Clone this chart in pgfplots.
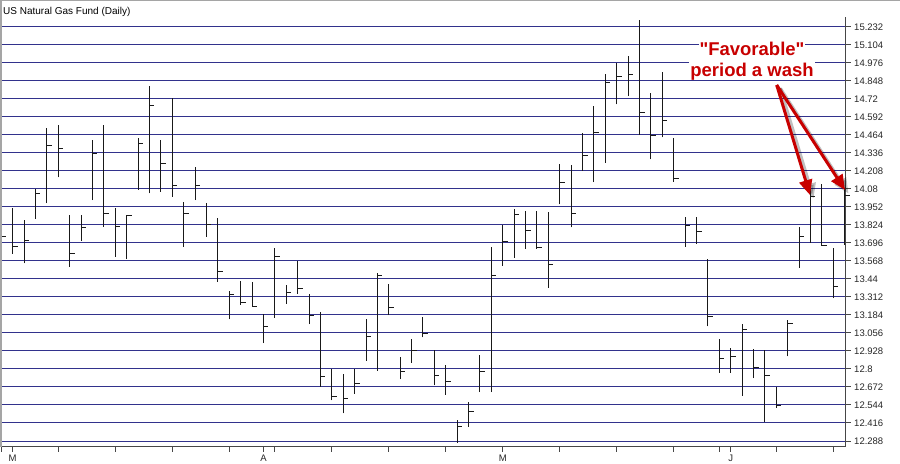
\documentclass[border=0pt]{standalone}
\usepackage{fontspec}
\setmainfont{Liberation Sans}
\newfontfamily\annfont{Liberation Sans}[Ligatures=TeXOff]
\usepackage{pgfplots}
\pgfplotsset{compat=1.18}
\usepackage{pgfplotstable}
\usetikzlibrary{arrows.meta}
\definecolor{gridblue}{RGB}{50,50,140}
\definecolor{barcol}{RGB}{25,25,25}
\definecolor{axiscol}{RGB}{70,70,70}
\definecolor{bordercol}{RGB}{165,165,165}
\definecolor{annred}{RGB}{200,0,0}

\pgfdeclareplotmark{closetick}{\pgfpathmoveto{\pgfpointorigin}\pgfpathlineto{\pgfpoint{5bp}{0pt}}\pgfusepathqstroke}
\pgfdeclareplotmark{nothing}{}

\pgfplotstableread{
i high low close
0 13.900 13.600 13.738
1 13.943 13.620 13.672
2 13.857 13.551 13.715
3 14.082 13.869 14.049
4 14.509 13.978 14.388
5 14.533 14.161 14.367
6 13.895 13.528 13.623
7 13.895 13.710 13.803
8 14.426 13.999 14.331
9 14.533 13.812 13.905
10 13.943 13.599 13.815
11 13.895 13.580 13.893
12 14.440 14.073 14.402
13 14.811 14.047 14.670
14 14.426 14.059 14.260
15 14.728 14.023 14.104
16 13.983 13.670 13.905
17 14.234 13.999 14.104
18 13.976 13.741 13.824
19 13.871 13.421 13.492
20 13.355 13.153 13.331
21 13.426 13.255 13.272
22 13.421 13.243 13.243
23 13.189 12.983 13.103
24 13.660 13.163 13.601
25 13.394 13.262 13.340
26 13.566 13.336 13.369
27 13.336 13.118 13.179
28 13.208 12.672 12.746
29 12.800 12.577 12.606
30 12.767 12.485 12.589
31 12.800 12.625 12.696
32 13.158 12.857 13.028
33 13.485 12.786 13.461
34 13.407 13.182 13.239
35 12.888 12.727 12.779
36 13.016 12.845 12.930
37 13.167 13.025 13.049
38 12.933 12.684 12.757
39 12.828 12.618 12.708
40 12.440 12.274 12.390
41 12.568 12.388 12.497
42 12.897 12.636 12.779
43 13.665 12.636 13.461
44 13.826 13.535 13.708
45 13.940 13.589 13.897
46 13.926 13.653 13.784
47 13.926 13.653 13.665
48 13.912 13.376 13.544
49 14.255 13.969 14.128
50 14.248 13.807 13.907
51 14.474 14.210 14.317
52 14.670 14.127 14.478
53 14.895 14.267 14.834
54 14.974 14.680 14.879
55 15.026 14.739 14.895
56 15.277 14.466 14.620
57 14.760 14.289 14.459
58 14.907 14.445 14.566
59 14.438 14.130 14.151
60 13.881 13.668 13.822
61 13.881 13.689 13.777
62 13.582 13.103 13.172
63 13.013 12.772 12.871
64 12.949 12.772 12.892
65 13.122 12.610 13.080
66 12.942 12.734 12.807
67 12.933 12.423 12.750
68 12.672 12.525 12.542
69 13.151 12.890 13.125
70 13.810 13.521 13.739
71 14.089 13.698 14.023
72 14.118 13.677 13.679
73 13.658 13.303 13.383
74 14.085 13.684 14.030
}\ohlc

\begin{document}
\begin{tikzpicture}
\useasboundingbox (0,0) rectangle (900bp,-464bp);
\begin{axis}[
  at={(1.3bp,-446.7bp)}, anchor=south west,
  scale only axis, width=844.4bp, height=430bp,
  xmin=0, xmax=74.09, ymin=12.2475, ymax=15.3034,
  axis x line*=bottom, axis y line*=right,
  axis line style={axiscol, line width=1bp},
  tick align=outside, major tick length=5bp,
  tick style={axiscol, line width=1bp},
  ytick={12.288,12.416,12.544,12.672,12.8,12.928,13.056,13.184,13.312,13.44,13.568,13.696,13.824,13.952,14.08,14.208,14.336,14.464,14.592,14.72,14.848,14.976,15.104,15.232},
  ymajorgrids, major grid style={gridblue, line width=1bp},
  xtick={0,1,5,10,15,20,23,24,29,34,39,44,49,54,59,63,64,68,73},
  xticklabels={,M,,,,,A,,,,,M,,,,,J,,},
  ticklabel style={font=\fontsize{9.5bp}{11bp}\selectfont, color=black!85},
  yticklabel style={/pgf/number format/fixed, /pgf/number format/precision=3, /pgf/number format/assume math mode=true},
  scaled y ticks=false,
  clip=false,
]
\addplot[only marks, mark=nothing, error bars/.cd, y dir=plus, y explicit, error mark=none, error bar style={barcol, line width=1bp}]
  table[x=i, y=low, y error plus expr=\thisrow{high}-\thisrow{low}] {\ohlc};
\addplot[only marks, mark=closetick, mark options={barcol, line width=1bp}]
  table[x=i, y=close] {\ohlc};
\end{axis}
% frame
\fill[bordercol] (0,0) rectangle (2bp,-447bp);
\fill[bordercol] (0,0) rectangle (900bp,-1bp);
% title
\node[anchor=base west, inner sep=0pt, font=\fontsize{10bp}{12bp}\selectfont] at (3bp,-14bp) {US Natural Gas Fund (Daily)};
% annotation
\node[anchor=base, fill=white, inner xsep=1bp, inner ysep=0.5bp, text=annred, font=\annfont\fontsize{18.5bp}{21bp}\selectfont\bfseries] at (752bp,-55bp) {"Favorable"};
\node[anchor=base, fill=white, inner xsep=1bp, inner ysep=0.5bp, text=annred, font=\annfont\fontsize{18.5bp}{21bp}\selectfont\bfseries] at (752bp,-76bp) {period a wash};
\begin{scope}[shift={(3.5bp,-3.5bp)}]
\draw[line width=3.5bp, black, opacity=0.25, -{Triangle[length=15bp,width=13bp]}] (776.7bp,-85bp) -- (810bp,-195bp);
\draw[line width=3.5bp, black, opacity=0.25, -{Triangle[length=15bp,width=13bp]}] (776.7bp,-85bp) -- (845bp,-190bp);
\end{scope}
\draw[line width=3bp, annred, -{Triangle[length=15bp,width=13bp]}] (776.7bp,-85bp) -- (810bp,-195bp);
\draw[line width=3bp, annred, -{Triangle[length=15bp,width=13bp]}] (776.7bp,-85bp) -- (845bp,-190bp);
\end{tikzpicture}
\end{document}
